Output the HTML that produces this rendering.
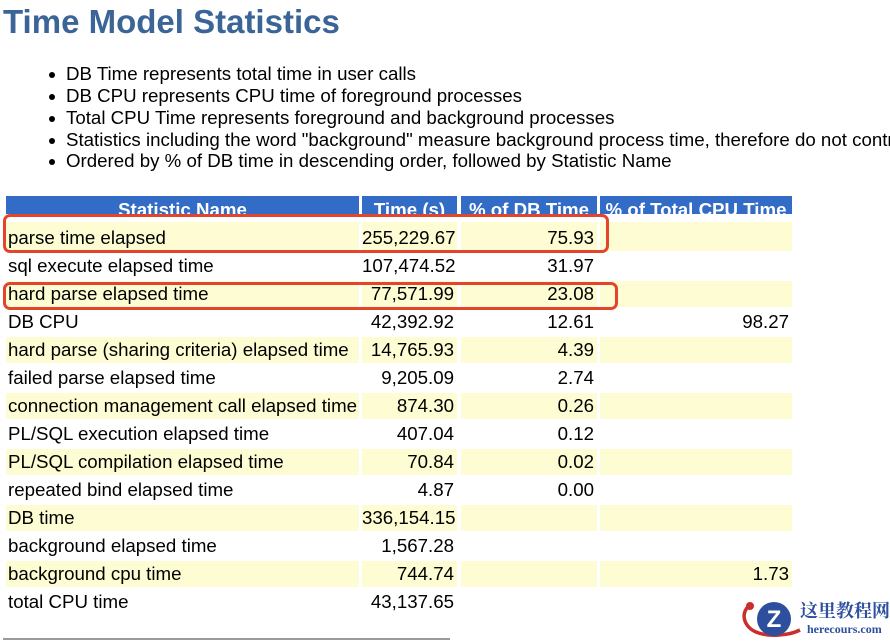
<!DOCTYPE html>
<html><head><meta charset="utf-8">
<style>
html,body{margin:0;padding:0;background:#fff;}
body{width:890px;height:641px;position:relative;overflow:hidden;font-family:"Liberation Sans",Arial,sans-serif;color:#000;}
.a{position:absolute;white-space:nowrap;}
.title{left:3px;top:3px;font-size:33px;line-height:38px;font-weight:bold;color:#3b6597;}
.bl{left:66px;font-size:18.7px;line-height:22px;}
.dot{position:absolute;width:6px;height:6px;border-radius:50%;background:#000;left:49px;}
.h{top:196px;height:18px;overflow:hidden;background:#336cc6;color:#fff;font-weight:bold;font-size:18.7px;line-height:27px;text-align:center;}
.c{height:26px;font-size:18.7px;line-height:26px;overflow:hidden;}
.y{background:#fefcd2;}
.l{padding-left:2px;box-sizing:border-box;}
.r{text-align:right;padding-right:3px;box-sizing:border-box;}
.box{position:absolute;border:3px solid #e2452c;border-radius:7px;box-sizing:border-box;}
</style></head><body>
<div class="a title">Time Model Statistics</div>

<div class="dot" style="top:72px"></div><div class="a bl" style="top:63px">DB Time represents total time in user calls</div>
<div class="dot" style="top:94px"></div><div class="a bl" style="top:85px">DB CPU represents CPU time of foreground processes</div>
<div class="dot" style="top:116px"></div><div class="a bl" style="top:107px">Total CPU Time represents foreground and background processes</div>
<div class="dot" style="top:138px"></div><div class="a bl" style="top:129px">Statistics including the word "background" measure background process time, therefore do not contribute to the DB time statistic</div>
<div class="dot" style="top:159px"></div><div class="a bl" style="top:150px">Ordered by % of DB time in descending order, followed by Statistic Name</div>

<div class="a h" style="left:6px;width:353px">Statistic Name</div>
<div class="a h" style="left:362px;width:95px">Time (s)</div>
<div class="a h" style="left:461px;width:136px">% of DB Time</div>
<div class="a h" style="left:600px;width:192px">% of Total CPU Time</div>

<div class="a c l y" style="left:6px;width:353px;top:222px;height:29px;line-height:32px">parse time elapsed</div>
<div class="a c r y" style="left:362px;width:95px;top:222px;height:29px;line-height:32px">255,229.67</div>
<div class="a c r y" style="left:461px;width:136px;top:222px;height:29px;line-height:32px">75.93</div>
<div class="a c r y" style="left:600px;width:192px;top:222px;height:29px;line-height:32px"></div>

<div class="a c l" style="left:6px;width:353px;top:253px">sql execute elapsed time</div>
<div class="a c r" style="left:362px;width:95px;top:253px">107,474.52</div>
<div class="a c r" style="left:461px;width:136px;top:253px">31.97</div>

<div class="a c l y" style="left:6px;width:353px;top:281px">hard parse elapsed time</div>
<div class="a c r y" style="left:362px;width:95px;top:281px">77,571.99</div>
<div class="a c r y" style="left:461px;width:136px;top:281px">23.08</div>
<div class="a c r y" style="left:600px;width:192px;top:281px"></div>

<div class="a c l" style="left:6px;width:353px;top:309px">DB CPU</div>
<div class="a c r" style="left:362px;width:95px;top:309px">42,392.92</div>
<div class="a c r" style="left:461px;width:136px;top:309px">12.61</div>
<div class="a c r" style="left:600px;width:192px;top:309px">98.27</div>

<div class="a c l y" style="left:6px;width:353px;top:337px">hard parse (sharing criteria) elapsed time</div>
<div class="a c r y" style="left:362px;width:95px;top:337px">14,765.93</div>
<div class="a c r y" style="left:461px;width:136px;top:337px">4.39</div>
<div class="a c r y" style="left:600px;width:192px;top:337px"></div>

<div class="a c l" style="left:6px;width:353px;top:365px">failed parse elapsed time</div>
<div class="a c r" style="left:362px;width:95px;top:365px">9,205.09</div>
<div class="a c r" style="left:461px;width:136px;top:365px">2.74</div>

<div class="a c l y" style="left:6px;width:353px;top:393px">connection management call elapsed time</div>
<div class="a c r y" style="left:362px;width:95px;top:393px">874.30</div>
<div class="a c r y" style="left:461px;width:136px;top:393px">0.26</div>
<div class="a c r y" style="left:600px;width:192px;top:393px"></div>

<div class="a c l" style="left:6px;width:353px;top:421px">PL/SQL execution elapsed time</div>
<div class="a c r" style="left:362px;width:95px;top:421px">407.04</div>
<div class="a c r" style="left:461px;width:136px;top:421px">0.12</div>

<div class="a c l y" style="left:6px;width:353px;top:449px">PL/SQL compilation elapsed time</div>
<div class="a c r y" style="left:362px;width:95px;top:449px">70.84</div>
<div class="a c r y" style="left:461px;width:136px;top:449px">0.02</div>
<div class="a c r y" style="left:600px;width:192px;top:449px"></div>

<div class="a c l" style="left:6px;width:353px;top:477px">repeated bind elapsed time</div>
<div class="a c r" style="left:362px;width:95px;top:477px">4.87</div>
<div class="a c r" style="left:461px;width:136px;top:477px">0.00</div>

<div class="a c l y" style="left:6px;width:353px;top:505px">DB time</div>
<div class="a c r y" style="left:362px;width:95px;top:505px">336,154.15</div>
<div class="a c r y" style="left:461px;width:136px;top:505px"></div>
<div class="a c r y" style="left:600px;width:192px;top:505px"></div>

<div class="a c l" style="left:6px;width:353px;top:533px">background elapsed time</div>
<div class="a c r" style="left:362px;width:95px;top:533px">1,567.28</div>

<div class="a c l y" style="left:6px;width:353px;top:561px">background cpu time</div>
<div class="a c r y" style="left:362px;width:95px;top:561px">744.74</div>
<div class="a c r y" style="left:461px;width:136px;top:561px"></div>
<div class="a c r y" style="left:600px;width:192px;top:561px">1.73</div>

<div class="a c l" style="left:6px;width:353px;top:589px">total CPU time</div>
<div class="a c r" style="left:362px;width:95px;top:589px">43,137.65</div>

<div class="box" style="left:3px;top:214px;width:606px;height:39px"></div>
<div class="box" style="left:3px;top:282px;width:615px;height:28px"></div>

<div style="position:absolute;left:3px;top:638px;width:447px;height:2px;background:#9a9a9a"></div>

<svg style="position:absolute;left:738px;top:596px" width="70" height="45" viewBox="0 0 70 45">
  <path d="M14 8 C2 14, 4 30, 18 36 C30 41, 50 40, 62 34" fill="none" stroke="#c9302c" stroke-width="3.5"/>
  <circle cx="12" cy="10" r="4" fill="#c9302c"/>
  <circle cx="36" cy="23" r="17" fill="#2d4f9e"/>
  <text x="36" y="31" font-family="Liberation Sans, sans-serif" font-weight="bold" font-size="24" fill="#fff" text-anchor="middle">Z</text>
</svg>
<div class="a" style="left:800px;top:600px;font-family:'Liberation Serif','Noto Serif CJK SC',serif;font-weight:bold;font-size:18px;line-height:22px;color:#2d4f9e">这里教程网</div>
<div class="a" style="left:807px;top:622px;font-family:'Liberation Serif',serif;font-weight:bold;font-size:12px;line-height:14px;color:#2d4f9e">herecours.com</div>
</body></html>
